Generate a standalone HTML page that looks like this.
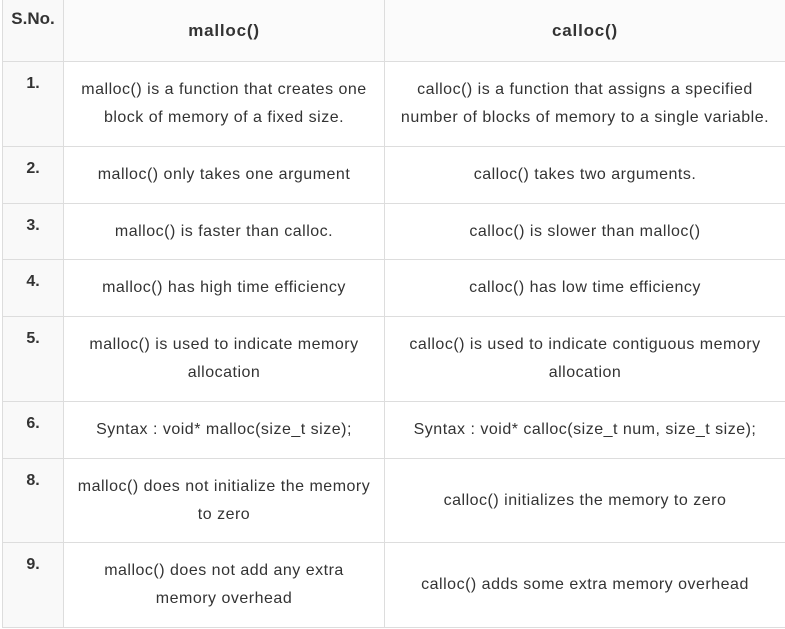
<!DOCTYPE html>
<html><head><style>
body{margin:0;width:785px;height:629px;background:#fff;overflow:hidden;font-family:"Liberation Sans",sans-serif;color:#333;position:relative}
.c{position:absolute;box-sizing:border-box;display:flex;align-items:center;justify-content:center;text-align:center;font-size:16px;line-height:28px;border-bottom:1px solid #ddd;padding:0 12px;letter-spacing:0.5px}
.n{position:absolute;box-sizing:border-box;background:#f9f9f9;border-left:1px solid #ddd;border-right:1px solid #ddd;border-bottom:1px solid #ddd;font-weight:bold;font-size:16px;text-align:center;padding-top:13px}
.h{font-weight:bold;font-size:17px;background:#fbfbfb;letter-spacing:0.8px}
</style></head><body>
<div class="n" style="left:2px;top:0;width:62px;height:62px;padding-top:9px;font-size:17px">S.No.</div>
<div class="c h" style="left:64px;top:0;width:321px;height:62px;border-right:1px solid #ddd">malloc()</div>
<div class="c h" style="left:385px;top:0;width:400px;height:62px">calloc()</div>

<div class="n" style="left:2px;top:62px;width:62px;height:85px">1.</div>
<div class="c" style="left:64px;top:62px;width:321px;height:85px;border-right:1px solid #ddd">malloc() is a function that creates one block of memory of a fixed size.</div>
<div class="c" style="left:385px;top:62px;width:400px;height:85px">calloc() is a function that assigns a specified number of blocks of memory to a single variable.</div>

<div class="n" style="left:2px;top:147px;width:62px;height:57px">2.</div>
<div class="c" style="left:64px;top:147px;width:321px;height:57px;border-right:1px solid #ddd">malloc() only takes one argument</div>
<div class="c" style="left:385px;top:147px;width:400px;height:57px">calloc() takes two arguments.</div>

<div class="n" style="left:2px;top:204px;width:62px;height:56px">3.</div>
<div class="c" style="left:64px;top:204px;width:321px;height:56px;border-right:1px solid #ddd">malloc() is faster than calloc.</div>
<div class="c" style="left:385px;top:204px;width:400px;height:56px">calloc() is slower than malloc()</div>

<div class="n" style="left:2px;top:260px;width:62px;height:57px">4.</div>
<div class="c" style="left:64px;top:260px;width:321px;height:57px;border-right:1px solid #ddd">malloc() has high time efficiency</div>
<div class="c" style="left:385px;top:260px;width:400px;height:57px">calloc() has low time efficiency</div>

<div class="n" style="left:2px;top:317px;width:62px;height:85px">5.</div>
<div class="c" style="left:64px;top:317px;width:321px;height:85px;border-right:1px solid #ddd">malloc() is used to indicate memory allocation</div>
<div class="c" style="left:385px;top:317px;width:400px;height:85px">calloc() is used to indicate contiguous memory allocation</div>

<div class="n" style="left:2px;top:402px;width:62px;height:57px">6.</div>
<div class="c" style="left:64px;top:402px;width:321px;height:57px;border-right:1px solid #ddd">Syntax : void* malloc(size_t size);</div>
<div class="c" style="left:385px;top:402px;width:400px;height:57px">Syntax : void* calloc(size_t num, size_t size);</div>

<div class="n" style="left:2px;top:459px;width:62px;height:84px">8.</div>
<div class="c" style="left:64px;top:459px;width:321px;height:84px;border-right:1px solid #ddd">malloc() does not initialize the memory to zero</div>
<div class="c" style="left:385px;top:459px;width:400px;height:84px">calloc() initializes the memory to zero</div>

<div class="n" style="left:2px;top:543px;width:62px;height:85px">9.</div>
<div class="c" style="left:64px;top:543px;width:321px;height:85px;border-right:1px solid #ddd">malloc() does not add any extra memory overhead</div>
<div class="c" style="left:385px;top:543px;width:400px;height:85px">calloc() adds some extra memory overhead</div>
</body></html>
